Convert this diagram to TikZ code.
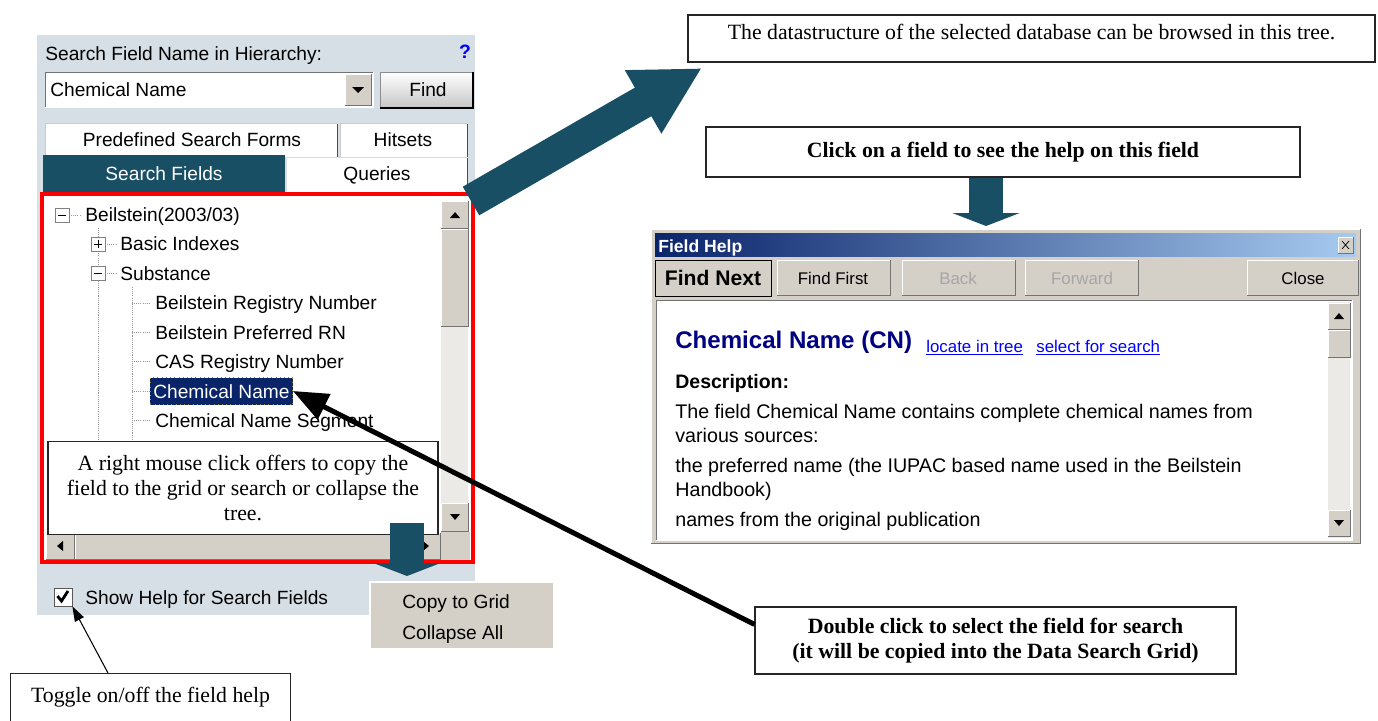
\documentclass[tikz,border=0pt]{standalone}
\usepackage{fontspec}
\setmainfont{Liberation Serif}
\newfontfamily\uifont{Liberation Sans}
\usepackage{tikz}
\usetikzlibrary{shapes,arrows,arrows.meta,positioning}

\definecolor{panelbg}{RGB}{214,223,230}
\definecolor{wingray}{RGB}{212,208,200}
\definecolor{arrowblue}{RGB}{25,79,101}
\definecolor{selnavy}{RGB}{10,36,106}
\definecolor{titlelight}{RGB}{166,202,240}
\definecolor{headnavy}{RGB}{0,0,128}
\definecolor{linkblue}{RGB}{0,0,255}

\newcommand{\uisize}{\uifont\fontsize{10.9}{13}\selectfont}
\newcommand{\helpsize}{\uifont\fontsize{11.2}{13.5}\selectfont}
\newcommand{\btnsize}{\uifont\fontsize{9.6}{11}\selectfont}
\newcommand{\notesize}{\fontsize{12.4}{14.4}\selectfont}

% windows style bevels (x1,y1,x2,y2 in screen pixels)
\newcommand{\raised}[4]{%
 \fill[wingray] (#1,#2) rectangle (#3,#4);
 \draw[white] (#1,#4) -- (#1,#2) -- (#3,#2);
 \draw[black!55] (#1,#4) -- (#3,#4) -- (#3,#2);}
\newcommand{\sunken}[4]{%
 \draw[black!55] (#1,#4) -- (#1,#2) -- (#3,#2);
 \draw[white] (#1,#4) -- (#3,#4) -- (#3,#2);}
\newcommand{\minusbox}[2]{%
 \draw[gray,fill=white] (#1-7,#2-7) rectangle (#1+7,#2+7);
 \draw[black] (#1-4,#2) -- (#1+4,#2);}
\newcommand{\plusbox}[2]{%
 \minusbox{#1}{#2}
 \draw[black] (#1,#2-4) -- (#1,#2+4);}

\tikzstyle{callout} = [rectangle,draw=black!85,fill=white,line width=0.7pt,align=center,font=\notesize,inner sep=0pt]
\tikzstyle{uitext} = [anchor=west,inner sep=0pt,font=\uisize,text height=9.2pt,text depth=1pt]
\tikzstyle{treeline} = [gray!80,dash pattern=on 0.6pt off 0.6pt]
\tikzstyle{bigarrow} = [color=arrowblue,line width=0.66cm,-{Triangle[length=1.36cm,width=1.36cm]}]
\tikzstyle{downarrow} = [color=arrowblue,line width=0.68cm,-{Triangle[length=0.26cm,width=1.34cm]}]
\tikzstyle{pointer} = [black,line width=0.1cm,-{Triangle[length=0.7cm,width=0.55cm]}]
\tikzstyle{thinpointer} = [black,line width=0.6pt,-{Triangle[length=0.3cm,width=0.2cm]}]

\begin{document}
\begin{tikzpicture}[x=0.02cm,y=-0.02cm]
 	\useasboundingbox (0,0) rectangle (1378,720);

 	%search panel
 	\fill[panelbg] (37,35) rectangle (475,615);
 	\node (findlabel) [uitext] at (45,53) {Search Field Name in Hierarchy:};
 	\node (qmark) [inner sep=0pt,font=\uifont\bfseries\fontsize{11}{13}\selectfont,text=blue] at (465,52) {?};

 	\fill[white] (45,72) rectangle (373,107);
 	\sunken{45}{72}{373}{107}
 	\node (combo) [uitext] at (50,89) {Chemical Name};
 	\raised{345}{74}{371}{105}
 	\fill (352,87) -- (364,87) -- (358,93) -- cycle;
 	\shade[top color=white,bottom color=gray!45] (380,72) rectangle (473,108);
 	\draw[black!45] (380,108) -- (380,72) -- (473,72);
 	\draw[black,line width=1.2pt] (380,108) -- (473,108) -- (473,72);
 	\node (findbtn) [uitext,anchor=center] at (428,89) {Find};

 	%tabs
 	\fill[white] (45,123) rectangle (337,157);
 	\draw[gray!40] (45,157) -- (45,123) -- (337,123);
 	\draw[black!70] (337,124) -- (337,157);
 	\node (predef) [uitext,anchor=center] at (192,139) {Predefined Search Forms};
 	\fill[white] (340,123) rectangle (467,157);
 	\draw[gray!40] (340,157) -- (340,123) -- (467,123);
 	\draw[black!70] (467,124) -- (467,157);
 	\node (hitsets) [uitext,anchor=center] at (403,139) {Hitsets};
 	\fill[arrowblue] (43,155) rectangle (285,193);
 	\node (searchtab) [uitext,anchor=center,text=white] at (164,173) {Search Fields};
 	\fill[white] (287,158) rectangle (467,193);
 	\draw[black!70] (467,158) -- (467,193);
 	\node (queries) [uitext,anchor=center] at (377,173) {Queries};

 	%tree view
 	\fill[white] (44,196) rectangle (471,560);
 	\fill[wingray!45] (441,201) rectangle (468,531);
 	\raised{441}{201}{468}{228}
 	\fill (450,218) -- (460,218) -- (455,212) -- cycle;
 	\raised{441}{229}{468}{326}
 	\raised{441}{503}{468}{531}
 	\fill (450,514) -- (460,514) -- (455,520) -- cycle;
 	\raised{46}{533}{74}{559}
 	\fill (63,541) -- (63,551) -- (57,546) -- cycle;
 	\raised{75}{533}{413}{559}
 	\raised{413}{533}{440}{559}
 	\fill (423,541) -- (423,551) -- (429,546) -- cycle;
 	\fill[wingray] (441,532) rectangle (470,560);
 	\draw[red,line width=0.08cm] (42,194) rectangle (473,562);

 	\draw[treeline] (69,215) -- (81,215);
 	\draw[treeline] (98,228) -- (98,442);
 	\draw[treeline] (105,244) -- (116,244);
 	\draw[treeline] (105,273) -- (116,273);
 	\draw[treeline] (132,287) -- (132,442);
 	\draw[treeline] (132,303) -- (150,303);
 	\draw[treeline] (132,332) -- (150,332);
 	\draw[treeline] (132,361) -- (150,361);
 	\draw[treeline] (132,391) -- (150,391);
 	\draw[treeline] (132,420) -- (150,420);
 	\minusbox{62}{215}
 	\plusbox{98}{244}
 	\minusbox{98}{273}

 	\node (root) [uitext] at (85,214) {Beilstein(2003/03)};
 	\node (basic) [uitext] at (120,243) {Basic Indexes};
 	\node (subst) [uitext] at (120,273) {Substance};
 	\node (brn) [uitext] at (155,302) {Beilstein Registry Number};
 	\node (bprn) [uitext] at (155,332) {Beilstein Preferred RN};
 	\node (casrn) [uitext] at (155,361) {CAS Registry Number};
 	\node (chemname) [uitext,fill=selnavy,text=white,draw=yellow!50!black,dotted,inner xsep=0.06cm,minimum height=0.54cm] at (150,391) {Chemical Name};
 	\node (chemseg) [uitext] at (155,420) {Chemical Name Segment};

 	\node (rightclick) [callout,minimum width=7.8cm,minimum height=1.86cm] at (243,488) {A right mouse click offers to copy the\\ field to the grid or search or collapse the\\ tree.};

 	%context menu
 	\coordinate (calloutfoot) at (407,523);
 	\coordinate (menutop) at (407,576);
 	\draw[downarrow] (calloutfoot) -- (menutop);
 	\node (menu) [rectangle,fill=wingray,minimum width=3.66cm,minimum height=1.32cm,inner sep=0pt] at (461.5,615) {};
 	\draw[white,line width=1pt] (menu.south west) -- (menu.north west) -- (menu.north east);
 	\node (copygrid) [uitext] at (402,601) {Copy to Grid};
 	\node (collapse) [uitext] at (402,632) {Collapse All};

 	%help checkbox
 	\node (checkbox) [rectangle,draw=gray!70!black,fill=white,minimum size=0.36cm,inner sep=0pt] at (63,597) {};
 	\draw[line width=1.6pt] (57.5,596) -- (61.5,601) -- (68,591);
 	\node (showhelp) [uitext] at (85,597) {Show Help for Search Fields};

 	\node (togglebox) [callout,anchor=north west,minimum width=5.6cm,minimum height=1.4cm,text height=9pt,text depth=15.8pt] at (10,673) {Toggle on/off the field help};
 	\draw[thinpointer] (togglebox.north west) ++(98,0) -- (checkbox.south east);

 	%notes on the right
 	\node (datastruct) [callout,minimum width=13.74cm,minimum height=0.94cm,text height=6pt,text depth=5pt] at (1031.5,38.5) {The datastructure of the selected database can be browsed in this tree.};
 	\coordinate (treecorner) at (471,201);
 	\coordinate (datatip) at (702,68);
 	\draw[bigarrow] (treecorner) -- (datatip);

 	\node (clickfield) [callout,font=\notesize\bfseries,minimum width=11.88cm,minimum height=1cm] at (1003,152) {Click on a field to see the help on this field};
 	\coordinate (helptop) at (986,226);
 	\draw[downarrow] (clickfield.south) ++(-17,0) -- (helptop);

 	%field help window
 	\raised{651}{229}{1360}{543}
 	\shade[left color=selnavy,right color=titlelight] (655,233) rectangle (1356,256);
 	\node (helptitle) [uitext,font=\uifont\bfseries\fontsize{10}{12}\selectfont,text=white] at (658,245) {Field Help};
 	\raised{1338}{237}{1353}{253}
 	\draw (1342,241) -- (1349,249) (1349,241) -- (1342,249);

 	\raised{655}{260}{771}{296}
 	\draw[black] (655,260) rectangle (771,296);
 	\node (findnext) [uitext,anchor=center,font=\uifont\bfseries\fontsize{12}{14}\selectfont] at (713,278) {Find Next};
 	\raised{777}{260}{890}{295}
 	\node (findfirst) [uitext,anchor=center,font=\btnsize] at (833,277) {Find First};
 	\raised{902}{260}{1015}{295}
 	\node (back) [uitext,anchor=center,font=\btnsize,text=gray!70] at (958,277) {Back};
 	\raised{1025}{260}{1138}{295}
 	\node (forward) [uitext,anchor=center,font=\btnsize,text=gray!70] at (1082,277) {Forward};
 	\raised{1247}{260}{1358}{295}
 	\node (close) [uitext,anchor=center,font=\btnsize] at (1303,277) {Close};

 	\fill[white] (656,300) rectangle (1352,540);
 	\sunken{656}{300}{1352}{540}
 	\fill[wingray!45] (1328,302) rectangle (1350,538);
 	\raised{1328}{303}{1350}{329}
 	\fill (1334,319) -- (1344,319) -- (1339,313) -- cycle;
 	\raised{1328}{330}{1350}{357}
 	\raised{1328}{510}{1350}{536}
 	\fill (1334,520) -- (1344,520) -- (1339,526) -- cycle;

 	\node (cnhead) [uitext,font=\uifont\bfseries\fontsize{13.7}{16}\selectfont,text=headnavy] at (675,341) {Chemical Name (CN)};
 	\node (locate) [uitext,font=\uifont\fontsize{9.6}{11}\selectfont,text=linkblue] at (926,345) {\underline{locate in tree}};
 	\node (selsearch) [uitext,font=\uifont\fontsize{9.6}{11}\selectfont,text=linkblue] at (1036,345) {\underline{select for search}};
 	\node (desc) [uitext,font=\uifont\bfseries\fontsize{11.1}{13}\selectfont] at (675,381) {Description:};
 	\node (body1) [uitext,font=\helpsize] at (675,411) {The field Chemical Name contains complete chemical names from};
 	\node (body2) [uitext,font=\helpsize] at (675,435) {various sources:};
 	\node (body3) [uitext,font=\helpsize] at (675,465) {the preferred name (the IUPAC based name used in the Beilstein};
 	\node (body4) [uitext,font=\helpsize] at (675,489) {Handbook)};
 	\node (body5) [uitext,font=\helpsize] at (675,519) {names from the original publication};

 	\node (dblclick) [callout,font=\notesize\bfseries,minimum width=9.62cm,minimum height=1.34cm] at (995.5,640.5) {Double click to select the field for search\\(it will be copied into the Data Search Grid)};
 	\draw[pointer] (dblclick.north west) ++(0,18) -- (chemname.east);
\end{tikzpicture}
\end{document}
